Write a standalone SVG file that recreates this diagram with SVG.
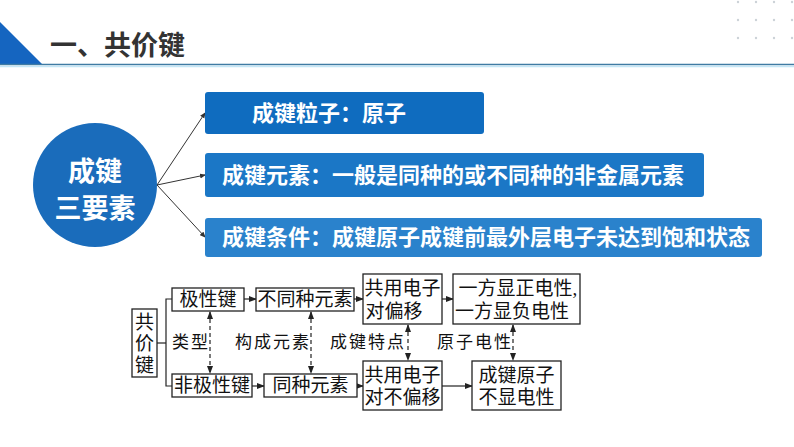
<svg xmlns="http://www.w3.org/2000/svg" width="794" height="447" viewBox="0 0 794 447">
<defs>
<style>
.hd{font-family:"Noto Sans CJK SC","Noto Sans",sans-serif;font-weight:bold;}
.wt{fill:#fff;font-family:"Noto Sans CJK SC","Noto Sans",sans-serif;font-weight:bold;font-size:22px;}
.ct{fill:#fff;font-family:"Noto Sans CJK SC","Noto Sans",sans-serif;font-weight:bold;font-size:27px;text-anchor:middle;}
.bx{fill:#fff;stroke:#222;stroke-width:1.3;}
.tx{font-family:"Liberation Serif","Noto Sans CJK SC",serif;font-size:19px;fill:#111;text-anchor:middle;}
.lb{font-family:"Liberation Serif","Noto Sans CJK SC",serif;font-size:17px;fill:#111;letter-spacing:2px;}
.ln{stroke:#222;stroke-width:1.2;fill:none;}
.ds{stroke:#222;stroke-width:1.2;fill:none;stroke-dasharray:4,3;}
.dot{fill:#ccd2d8;}
</style>
<marker id="ah" markerWidth="8" markerHeight="6" refX="7" refY="3" orient="auto" markerUnits="userSpaceOnUse">
<path d="M0,0 L8,3 L0,6 Z" fill="#222"/>
</marker>
<marker id="ahs" markerWidth="8" markerHeight="6" refX="7" refY="3" orient="auto-start-reverse" markerUnits="userSpaceOnUse">
<path d="M0,0 L8,3 L0,6 Z" fill="#222"/>
</marker>
<marker id="ab" markerWidth="6" markerHeight="6" refX="5" refY="3" orient="auto" markerUnits="userSpaceOnUse">
<path d="M0,0.5 L6,3 L0,5.5 Z" fill="#333"/>
</marker>
</defs>
<rect width="794" height="447" fill="#fff"/>
<g id="header">
<polygon points="0,22 42,64 0,64" fill="#1565c0"/>
<line x1="0" y1="64.5" x2="794" y2="64.5" stroke="#3f7ba3" stroke-width="1.5"/>
<line x1="0" y1="66.5" x2="794" y2="66.5" stroke="#c4e6f6" stroke-width="1.5"/>
<text x="50" y="55" class="hd" font-size="27" fill="#333">一、共价键</text>
<g id="dots">
<circle cx="738" cy="2" r="1.2" class="dot"/><circle cx="756" cy="2" r="1.2" class="dot"/><circle cx="774" cy="2" r="1.2" class="dot"/><circle cx="792" cy="2" r="1.2" class="dot"/>
<circle cx="738" cy="20" r="1.2" class="dot"/><circle cx="756" cy="20" r="1.2" class="dot"/><circle cx="774" cy="20" r="1.2" class="dot"/><circle cx="792" cy="20" r="1.2" class="dot"/>
<circle cx="738" cy="38" r="1.2" class="dot"/><circle cx="756" cy="38" r="1.2" class="dot"/><circle cx="774" cy="38" r="1.2" class="dot"/><circle cx="792" cy="38" r="1.2" class="dot"/>
</g>
</g>
<g id="top-connectors">
<line x1="157" y1="185" x2="205" y2="113" stroke="#333" stroke-width="1" marker-end="url(#ab)"/>
<line x1="157" y1="185" x2="205" y2="175" stroke="#333" stroke-width="1" marker-end="url(#ab)"/>
<line x1="157" y1="185" x2="205" y2="237" stroke="#333" stroke-width="1" marker-end="url(#ab)"/>
</g>
<g id="circle-node">
<circle cx="95" cy="185" r="62" fill="#1a6cbb"/>
<text x="95" y="181" class="ct">成键</text>
<text x="95" y="218" class="ct">三要素</text>
</g>
<g id="box1">
<rect x="205" y="92" width="279" height="42" rx="3" fill="#0f6cbf"/>
<text x="329" y="121" class="wt" text-anchor="middle">成键粒子：原子</text>
</g>
<g id="box2">
<rect x="205" y="153" width="499" height="44" rx="3" fill="#1b77c6"/>
<text x="222" y="183" class="wt">成键元素：一般是同种的或不同种的非金属元素</text>
</g>
<g id="box3">
<rect x="205" y="218" width="557" height="39" rx="3" fill="#2a82cc"/>
<text x="222" y="245" class="wt">成键条件：成键原子成键前最外层电子未达到饱和状态</text>
</g>
<g id="connectors">
<polyline class="ln" points="157,343 166,343"/>
<polyline class="ln" points="172,299 166,299 166,386 172,386"/>
<line class="ln" x1="244" y1="299" x2="256" y2="299" marker-end="url(#ah)"/>
<line class="ln" x1="354" y1="299" x2="363" y2="299" marker-end="url(#ah)"/>
<line class="ln" x1="442" y1="299" x2="453" y2="299" marker-end="url(#ah)"/>
<line class="ln" x1="252" y1="386" x2="264" y2="386" marker-end="url(#ah)"/>
<line class="ln" x1="357" y1="386" x2="363" y2="386" marker-end="url(#ah)"/>
<line class="ln" x1="442" y1="386" x2="472" y2="386" marker-end="url(#ah)"/>
<line class="ds" x1="210" y1="312" x2="210" y2="373" marker-start="url(#ahs)" marker-end="url(#ah)"/>
<line class="ds" x1="311" y1="312" x2="311" y2="373" marker-start="url(#ahs)" marker-end="url(#ah)"/>
<line class="ds" x1="408" y1="325" x2="408" y2="360" marker-start="url(#ahs)" marker-end="url(#ah)"/>
<line class="ds" x1="513" y1="325" x2="513" y2="360" marker-start="url(#ahs)" marker-end="url(#ah)"/>
</g>
<g id="labels">
<text x="172" y="348" class="lb">类型</text>
<text x="235" y="348" class="lb">构成元素</text>
<text x="330" y="348" class="lb">成键特点</text>
<text x="437" y="348" class="lb">原子电性</text>
</g>
<g id="n-gongjiajian">
<rect class="bx" x="132" y="309" width="25" height="68"/>
<text class="tx" x="144.5" y="329">共</text>
<text class="tx" x="144.5" y="350">价</text>
<text class="tx" x="144.5" y="372">键</text>
</g>
<g id="n-jixingjian">
<rect class="bx" x="172" y="288" width="72" height="23"/>
<text class="tx" x="208" y="306">极性键</text>
</g>
<g id="n-butongzhong">
<rect class="bx" x="256" y="288" width="98" height="23"/>
<text class="tx" x="305" y="306">不同种元素</text>
</g>
<g id="n-feijixing">
<rect class="bx" x="172" y="374" width="80" height="23"/>
<text class="tx" x="212" y="392">非极性键</text>
</g>
<g id="n-tongzhong">
<rect class="bx" x="264" y="374" width="93" height="23"/>
<text class="tx" x="310.5" y="392">同种元素</text>
</g>
<g id="n-pianyi">
<rect class="bx" x="363" y="274" width="79" height="50"/>
<text class="tx" x="402.5" y="295">共用电子</text>
<text class="tx" x="394" y="318">对偏移</text>
</g>
<g id="n-zhengfu">
<rect class="bx" x="453" y="274" width="127" height="50"/>
<text class="tx" x="518" y="295">一方显正电性,</text>
<text class="tx" x="512" y="318">一方显负电性</text>
</g>
<g id="n-bupianyi">
<rect class="bx" x="363" y="361" width="79" height="49"/>
<text class="tx" x="402.5" y="382">共用电子</text>
<text class="tx" x="402.5" y="404">对不偏移</text>
</g>
<g id="n-buxian">
<rect class="bx" x="472" y="361" width="89" height="49"/>
<text class="tx" x="516.5" y="382">成键原子</text>
<text class="tx" x="516.5" y="404">不显电性</text>
</g>
</svg>
